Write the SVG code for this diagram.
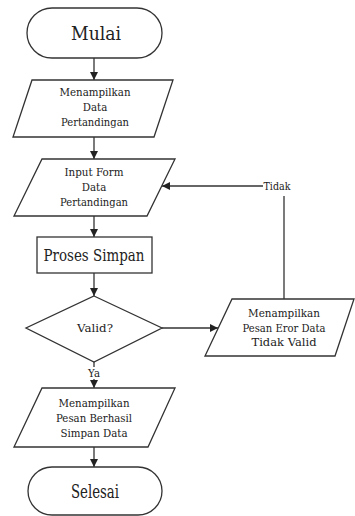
<svg xmlns="http://www.w3.org/2000/svg" width="355" height="516" viewBox="0 0 355 516">
<style>
.s{fill:#fff;stroke:#333;stroke-width:1.3}
.c{fill:none;stroke:#333;stroke-width:1.3}
.t{font-family:'DejaVu Serif',serif;fill:#222;text-anchor:middle;dominant-baseline:central}
.sm{font-size:11.5px}
.xs{font-size:10.5px}
.lg{font-size:16.5px}
.xl{font-size:19px}
</style>
<defs>
<marker id="a" markerWidth="8" markerHeight="8" refX="8" refY="4" orient="auto" markerUnits="userSpaceOnUse">
<path d="M0,0 L8,4 L0,8 Z" fill="#222"/>
</marker>
</defs>
<rect width="355" height="516" fill="#fff"/>
<g id="connectors">
<line class="c" x1="94" y1="58" x2="94" y2="80" marker-end="url(#a)"/>
<line class="c" x1="94" y1="137" x2="94" y2="159" marker-end="url(#a)"/>
<line class="c" x1="94" y1="216" x2="94" y2="237" marker-end="url(#a)"/>
<line class="c" x1="94" y1="273" x2="94" y2="296" marker-end="url(#a)"/>
<line class="c" x1="94" y1="362" x2="94" y2="367"/>
<line class="c" x1="94" y1="379" x2="94" y2="388" marker-end="url(#a)"/>
<text class="t xs" x="94" y="373" textLength="12" lengthAdjust="spacingAndGlyphs">Ya</text>
<line class="c" x1="162" y1="328" x2="218" y2="328" marker-end="url(#a)"/>
<polyline class="c" points="284,299 284,196"/>
<line class="c" x1="263" y1="186" x2="162" y2="186" marker-end="url(#a)"/>
<text class="t xs" x="277" y="186" textLength="27" lengthAdjust="spacingAndGlyphs">Tidak</text>
<line class="c" x1="94" y1="447" x2="94" y2="467" marker-end="url(#a)"/>
</g>
<g id="mulai">
<rect class="s" x="27" y="8" width="135" height="50" rx="25" ry="25"/>
<text class="t xl" x="96" y="33" textLength="50" lengthAdjust="spacingAndGlyphs">Mulai</text>
</g>
<g id="tampil-data">
<polygon class="s" points="32,80 173,80 154,137 13,137"/>
<text class="t sm" x="95" y="92" textLength="71" lengthAdjust="spacingAndGlyphs">Menampilkan</text>
<text class="t sm" x="95" y="107" textLength="24.5" lengthAdjust="spacingAndGlyphs">Data</text>
<text class="t sm" x="95" y="122" textLength="68" lengthAdjust="spacingAndGlyphs">Pertandingan</text>
</g>
<g id="input-form">
<polygon class="s" points="42,159 175,159 147,216 14,216"/>
<text class="t sm" x="94" y="172" textLength="59" lengthAdjust="spacingAndGlyphs">Input Form</text>
<text class="t sm" x="94" y="187" textLength="24.5" lengthAdjust="spacingAndGlyphs">Data</text>
<text class="t sm" x="94" y="202" textLength="68" lengthAdjust="spacingAndGlyphs">Pertandingan</text>
</g>
<g id="proses">
<rect class="s" x="37" y="237" width="115" height="36"/>
<text class="t lg" x="94" y="255" textLength="101" lengthAdjust="spacingAndGlyphs">Proses Simpan</text>
</g>
<g id="valid">
<polygon class="s" points="94,296 162,328 94,362 26,328"/>
<text class="t sm" x="95" y="328" textLength="36" lengthAdjust="spacingAndGlyphs">Valid?</text>
</g>
<g id="berhasil">
<polygon class="s" points="42,388 175,388 148,447 14,447"/>
<text class="t sm" x="94" y="403" textLength="71" lengthAdjust="spacingAndGlyphs">Menampilkan</text>
<text class="t sm" x="94" y="418" textLength="76" lengthAdjust="spacingAndGlyphs">Pesan Berhasil</text>
<text class="t sm" x="94" y="433" textLength="67" lengthAdjust="spacingAndGlyphs">Simpan Data</text>
</g>
<g id="eror">
<polygon class="s" points="232,299 354,299 335,356 205,356"/>
<text class="t sm" x="284" y="313" textLength="72" lengthAdjust="spacingAndGlyphs">Menampilkan</text>
<text class="t sm" x="284" y="328" textLength="83" lengthAdjust="spacingAndGlyphs">Pesan Eror Data</text>
<text class="t sm" x="284" y="342" textLength="65" lengthAdjust="spacingAndGlyphs">Tidak Valid</text>
</g>
<g id="selesai">
<rect class="s" x="28" y="467" width="134" height="48" rx="24" ry="24"/>
<text class="t" font-size="18" x="95" y="491" textLength="48" lengthAdjust="spacingAndGlyphs">Selesai</text>
</g>
</svg>
